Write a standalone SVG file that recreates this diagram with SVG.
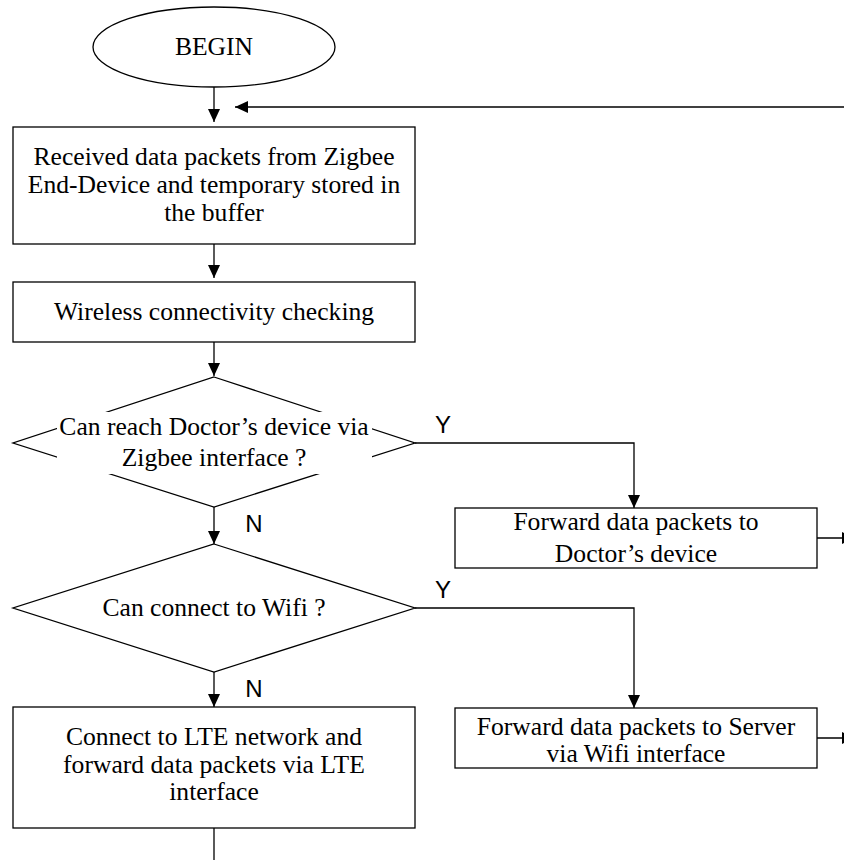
<svg xmlns="http://www.w3.org/2000/svg" width="844" height="860" viewBox="0 0 844 860">
<defs>
<marker id="arr" markerUnits="userSpaceOnUse" markerWidth="14" markerHeight="12" viewBox="0 0 14 12" refX="13" refY="6" orient="auto">
<path d="M0,0 L13,6 L0,12 Z" fill="#000"/>
</marker>
<style>
.shape{fill:#fff;stroke:#000;stroke-width:1.3}
.t{font-family:"Liberation Serif","Times New Roman",serif;font-size:25.6px;fill:#000;text-anchor:middle}
.l{font-family:"Liberation Sans",Arial,sans-serif;font-size:24px;fill:#000;text-anchor:middle}
.c{fill:none;stroke:#000;stroke-width:1.3}
</style>
</defs>
<rect width="844" height="860" fill="#fff"/>
<g id="connectors">
<path class="c" d="M214,87 V122" marker-end="url(#arr)"/>
<path class="c" d="M850,107 H235" marker-end="url(#arr)"/>
<path class="c" d="M214,244 V278" marker-end="url(#arr)"/>
<path class="c" d="M214,342 V376" marker-end="url(#arr)"/>
<path class="c" d="M415,443 H634 V508" marker-end="url(#arr)"/>
<path class="c" d="M214,507 V544" marker-end="url(#arr)"/>
<path class="c" d="M415,608 H634 V708" marker-end="url(#arr)"/>
<path class="c" d="M214,672 V707" marker-end="url(#arr)"/>
<path class="c" d="M817,538 H855" marker-end="url(#arr)"/>
<path class="c" d="M817,738 H855" marker-end="url(#arr)"/>
<path class="c" d="M214,828 V862"/>
<text class="l" x="443" y="433">Y</text>
<text class="l" x="254" y="532">N</text>
<text class="l" x="443" y="598">Y</text>
<text class="l" x="254" y="697">N</text>
</g>
<g id="begin">
<ellipse class="shape" cx="214" cy="47" rx="121" ry="40"/>
<text class="t" x="214" y="55">BEGIN</text>
</g>
<g id="receive">
<rect class="shape" x="13" y="127" width="402" height="117"/>
<text class="t" x="214" y="165">Received data packets from Zigbee</text>
<text class="t" x="214" y="193">End-Device and temporary stored in</text>
<text class="t" x="214" y="221">the buffer</text>
</g>
<g id="check">
<rect class="shape" x="13" y="282" width="402" height="60"/>
<text class="t" x="214" y="320">Wireless connectivity checking</text>
</g>
<g id="zigbee-decision">
<polygon class="shape" points="214,377 415,443 214,507 13,443"/>
<rect x="57" y="412" width="315" height="62" fill="#fff"/>
<text class="t" x="214" y="435">Can reach Doctor’s device via</text>
<text class="t" x="214" y="466">Zigbee interface ?</text>
</g>
<g id="forward-doctor">
<rect class="shape" x="455" y="508" width="362" height="60"/>
<text class="t" x="636" y="530">Forward data packets to</text>
<text class="t" x="636" y="562">Doctor’s device</text>
</g>
<g id="wifi-decision">
<polygon class="shape" points="214,544 415,608 214,672 13,608"/>
<text class="t" x="214" y="616">Can connect to Wifi ?</text>
</g>
<g id="forward-server">
<rect class="shape" x="455" y="708" width="362" height="60"/>
<text class="t" x="636" y="735">Forward data packets to Server</text>
<text class="t" x="636" y="762">via Wifi interface</text>
</g>
<g id="lte">
<rect class="shape" x="13" y="707" width="402" height="121"/>
<text class="t" x="214" y="745">Connect to LTE network and</text>
<text class="t" x="214" y="773">forward data packets via LTE</text>
<text class="t" x="214" y="800">interface</text>
</g>
</svg>
